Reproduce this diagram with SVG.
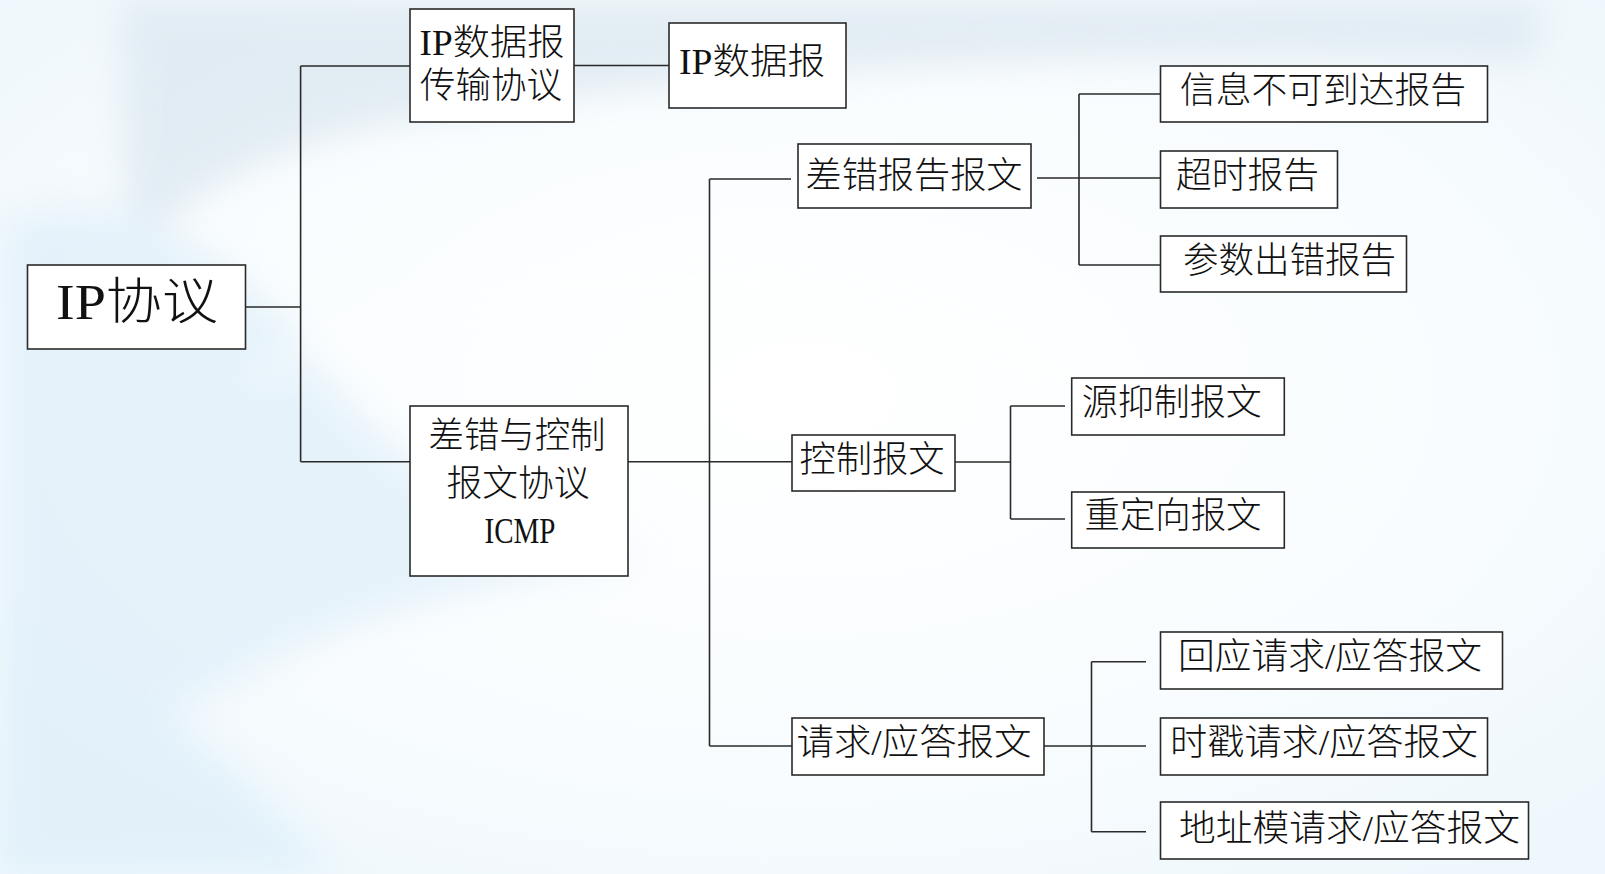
<svg xmlns="http://www.w3.org/2000/svg" width="1605" height="874" viewBox="0 0 1605 874">
<defs>
<radialGradient id="glow" cx="0.5" cy="0.45" r="0.7">
<stop offset="0" stop-color="#ffffff"/>
<stop offset="0.6" stop-color="#f8fcfe"/>
<stop offset="1" stop-color="#eef7fc"/>
</radialGradient>
<filter id="blur" x="-20%" y="-20%" width="140%" height="140%"><feGaussianBlur stdDeviation="18"/></filter>
</defs>
<style>
.box{fill:#ffffff;stroke:#2a2a2a;stroke-width:1.6}
.ln{fill:none;stroke:#2a2a2a;stroke-width:1.6}
.t{font-family:"Liberation Serif","Noto Sans CJK SC",serif;font-size:36px;fill:#111;text-anchor:middle;dominant-baseline:central;font-weight:300}
.big{font-size:50px}
</style>
<rect width="1605" height="874" fill="url(#glow)"/>
<g filter="url(#blur)" opacity="0.75">
<path d="M120 0 H1540 V60 Q900 40 400 120 Q200 160 130 260 Z" fill="#dbe7f0"/>
<path d="M0 220 Q160 170 300 340 Q420 520 650 560 Q300 600 120 760 L0 820 Z" fill="#e0eff9"/>
<path d="M0 600 Q200 720 340 874 H0 Z" fill="#deeff9"/>
</g>
<path d="M250 380 Q500 250 820 290 Q1000 320 1150 420" fill="none" stroke="#ffffff" stroke-width="14" opacity="0.6" filter="url(#blur)"/>
<g id="connectors">
<path class="ln" d="M245.7 307 H300.6 M300.6 66 V461.7 M300.6 66 H410 M300.6 461.7 H410"/>
<path class="ln" d="M574 65.5 H669"/>
<path class="ln" d="M628 461.7 H792 M709.5 179 V746 M709.5 179 H791 M709.5 746 H792"/>
<path class="ln" d="M1037 178 H1160.5 M1079 94 V265 M1079 94 H1160.5 M1079 265 H1160.5"/>
<path class="ln" d="M955 462 H1010.5 M1010.5 406 V519 M1010.5 406 H1065 M1010.5 519 H1065"/>
<path class="ln" d="M1044 746 H1146 M1091.5 661.7 V831.7 M1091.5 661.7 H1146 M1091.5 831.7 H1146"/>
</g>
<g id="n-ip"><rect class="box" x="27.5" y="265" width="218" height="84"/><text class="t big" x="137" y="302" textLength="162" lengthAdjust="spacingAndGlyphs">IP协议</text></g>
<g id="n-ipdt"><rect class="box" x="410" y="9" width="164" height="113"/><text class="t" x="492" y="43" textLength="145" lengthAdjust="spacingAndGlyphs">IP数据报</text><text class="t" x="491" y="86" textLength="142" lengthAdjust="spacingAndGlyphs">传输协议</text></g>
<g id="n-ipd"><rect class="box" x="669" y="23" width="177" height="85"/><text class="t" x="752" y="62" textLength="146" lengthAdjust="spacingAndGlyphs">IP数据报</text></g>
<g id="n-icmp"><rect class="box" x="410" y="406" width="218" height="170"/><text class="t" x="517" y="436" textLength="177" lengthAdjust="spacingAndGlyphs">差错与控制</text><text class="t" x="518" y="484" textLength="143" lengthAdjust="spacingAndGlyphs">报文协议</text><text class="t" x="520" y="531" textLength="71" lengthAdjust="spacingAndGlyphs">ICMP</text></g>
<g id="n-err"><rect class="box" x="798" y="144" width="233" height="64"/><text class="t" x="914" y="176" textLength="217" lengthAdjust="spacingAndGlyphs">差错报告报文</text></g>
<g id="n-ctrl"><rect class="box" x="792" y="435" width="163" height="56"/><text class="t" x="872" y="460" textLength="145" lengthAdjust="spacingAndGlyphs">控制报文</text></g>
<g id="n-req"><rect class="box" x="792" y="718" width="252" height="57"/><text class="t" x="914" y="743" textLength="235" lengthAdjust="spacingAndGlyphs">请求/应答报文</text></g>
<g id="n-unreach"><rect class="box" x="1160.5" y="66" width="327" height="56"/><text class="t" x="1323" y="91" textLength="286" lengthAdjust="spacingAndGlyphs">信息不可到达报告</text></g>
<g id="n-timeout"><rect class="box" x="1160.5" y="151" width="177" height="57"/><text class="t" x="1247.5" y="176" textLength="143" lengthAdjust="spacingAndGlyphs">超时报告</text></g>
<g id="n-param"><rect class="box" x="1160.5" y="236" width="246" height="56"/><text class="t" x="1289.5" y="261" textLength="213" lengthAdjust="spacingAndGlyphs">参数出错报告</text></g>
<g id="n-srcq"><rect class="box" x="1071.7" y="378" width="212.6" height="57"/><text class="t" x="1171.7" y="403" textLength="180" lengthAdjust="spacingAndGlyphs">源抑制报文</text></g>
<g id="n-redir"><rect class="box" x="1071.7" y="492" width="212.6" height="56"/><text class="t" x="1173" y="516" textLength="177" lengthAdjust="spacingAndGlyphs">重定向报文</text></g>
<g id="n-echo"><rect class="box" x="1160.5" y="632" width="342" height="57"/><text class="t" x="1330" y="657" textLength="304" lengthAdjust="spacingAndGlyphs">回应请求/应答报文</text></g>
<g id="n-tstamp"><rect class="box" x="1160.5" y="718" width="327" height="57"/><text class="t" x="1324" y="743" textLength="308" lengthAdjust="spacingAndGlyphs">时戳请求/应答报文</text></g>
<g id="n-mask"><rect class="box" x="1160.5" y="802" width="368" height="57"/><text class="t" x="1349.5" y="829" textLength="341" lengthAdjust="spacingAndGlyphs">地址模请求/应答报文</text></g>
</svg>
